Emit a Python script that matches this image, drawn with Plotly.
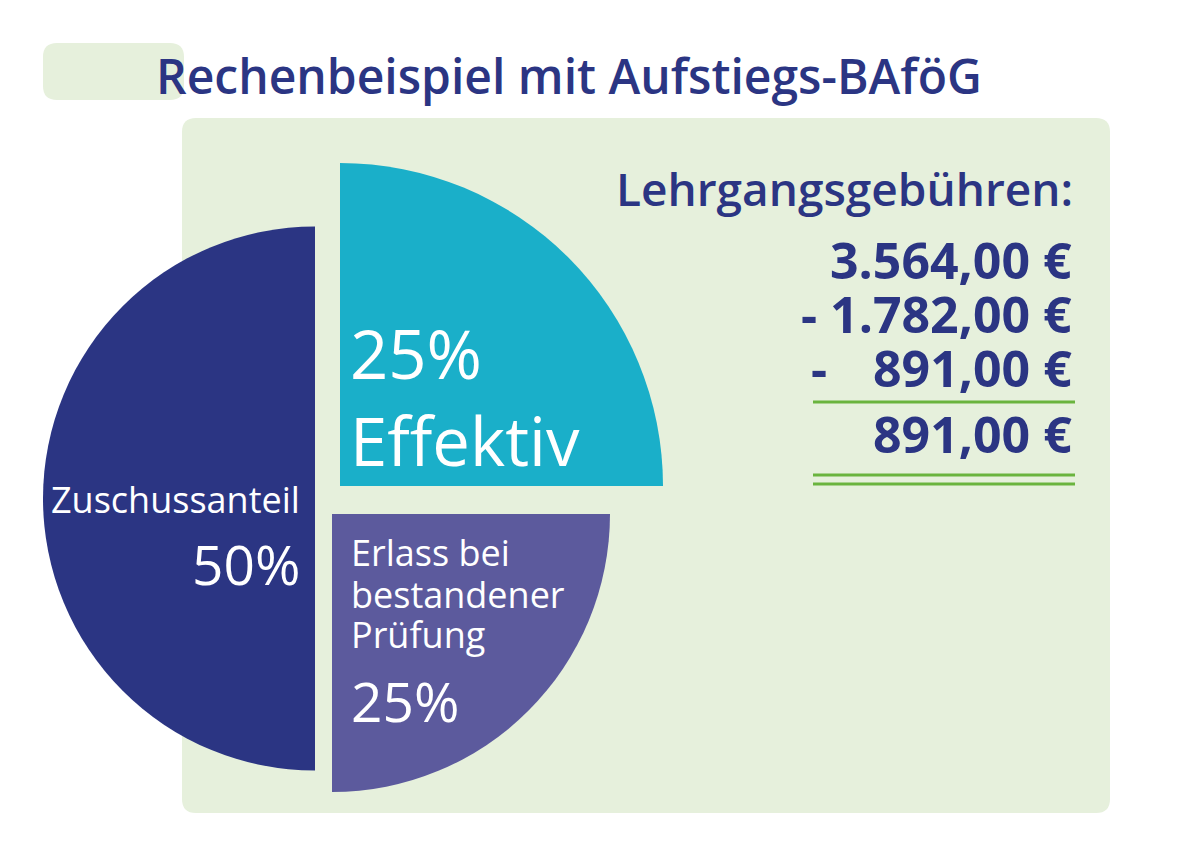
import plotly.graph_objects as go

W, H = 1200, 856

# ---- data ----
slice_labels = ["Zuschussanteil", "Effektiv", "Erlass bei bestandener Prüfung"]
slice_values = [50, 25, 25]
slice_colors = ["#2b3583", "#1aafc9", "#5c5a9d"]

title_text = "Rechenbeispiel mit Aufstiegs-BAföG"
fee_header = "Lehrgangsgebühren:"
fee_amounts = ["3.564,00 €", "- 1.782,00 €", "891,00 €"]
fee_signs = ["", "", "-"]
fee_result = "891,00 €"

NAVY = "#2b3583"
PANEL = "#e6f0dc"
GREEN = "#6ab43e"
FONT = "Open Sans"


def px(x):
    return x / W


def py(y):
    return 1 - y / H


def pie_domain(cx, cy, r):
    return dict(x=[px(cx - r), px(cx + r)], y=[py(cy + r), py(cy - r)])


# layout geometry for each exploded slice: (centre x, centre y, radius, rotation)
slice_geom = [
    (315, 498.5, 272, 180),
    (340, 486, 323, 0),
    (332, 514, 278, 90),
]

fig = go.Figure()
for lab, val, col, (cx, cy, r, rot) in zip(slice_labels, slice_values, slice_colors, slice_geom):
    fig.add_trace(go.Pie(
        labels=[lab, "rest"],
        values=[val, sum(slice_values) - val],
        marker=dict(colors=[col, "rgba(0,0,0,0)"], line=dict(width=0)),
        sort=False,
        rotation=rot,
        direction="clockwise",
        textinfo="none",
        hoverinfo="skip",
        showlegend=False,
        domain=pie_domain(cx, cy, r),
    ))


def rrect(x0, y0, x1, y1, r):
    pts = [
        ("M", [(x0 + r, y0)]),
        ("L", [(x1 - r, y0)]),
        ("Q", [(x1, y0), (x1, y0 + r)]),
        ("L", [(x1, y1 - r)]),
        ("Q", [(x1, y1), (x1 - r, y1)]),
        ("L", [(x0 + r, y1)]),
        ("Q", [(x0, y1), (x0, y1 - r)]),
        ("L", [(x0, y0 + r)]),
        ("Q", [(x0, y0), (x0 + r, y0)]),
    ]
    s = ""
    for cmd, ps in pts:
        s += cmd + " " + " ".join(f"{px(a):.5f},{py(b):.5f}" for a, b in ps) + " "
    return s + "Z"


shapes = [
    dict(type="path", xref="paper", yref="paper", path=rrect(43, 43, 184, 100, 14),
         fillcolor=PANEL, line=dict(width=0), layer="below"),
    dict(type="path", xref="paper", yref="paper", path=rrect(182, 118, 1110, 813, 14),
         fillcolor=PANEL, line=dict(width=0), layer="below"),
]
for yl in [402, 475, 484]:
    shapes.append(dict(type="line", xref="paper", yref="paper",
                       x0=px(813), x1=px(1075), y0=py(yl), y1=py(yl),
                       line=dict(color=GREEN, width=3)))

ann = []


def add_text(text, x, y, size, color, xanchor, weight=400):
    ann.append(dict(text=text, x=px(x), y=py(y), xref="paper", yref="paper",
                    xanchor=xanchor, yanchor="middle", showarrow=False,
                    align=xanchor,
                    font=dict(family=FONT, size=size, color=color, weight=weight)))


add_text(title_text, 154, 76, 48, NAVY, "left", 600)

# slice labels
add_text(slice_labels[0], 302, 499, 36, "white", "right")
add_text(f"{slice_values[0]}%", 302, 563, 55, "white", "right")
add_text(f"{slice_values[1]}%<br>{slice_labels[1]}", 348, 397, 67, "white", "left")
for line, yy in zip(["Erlass bei", "bestandener", "Prüfung"], [552, 594, 634]):
    add_text(line, 349, yy, 36, "white", "left")
add_text(f"{slice_values[2]}%", 349, 700, 55, "white", "left")

# fee calculation
add_text(fee_header, 1075, 188, 46, NAVY, "right", 600)
row_y = [260, 314, 368]
for amt, sign, yy in zip(fee_amounts, fee_signs, row_y):
    add_text(amt, 1074, yy, 50, NAVY, "right", 700)
    if sign:
        add_text(sign, 809, yy, 50, NAVY, "left", 700)
add_text(fee_result, 1074, 434, 50, NAVY, "right", 700)

fig.update_layout(
    width=W, height=H,
    margin=dict(l=0, r=0, t=0, b=0),
    paper_bgcolor="white",
    plot_bgcolor="white",
    shapes=shapes,
    annotations=ann,
    showlegend=False,
)

fig.write_html("out.html", config={"displayModeBar": False},
               post_script="document.body.style.margin='0';")
